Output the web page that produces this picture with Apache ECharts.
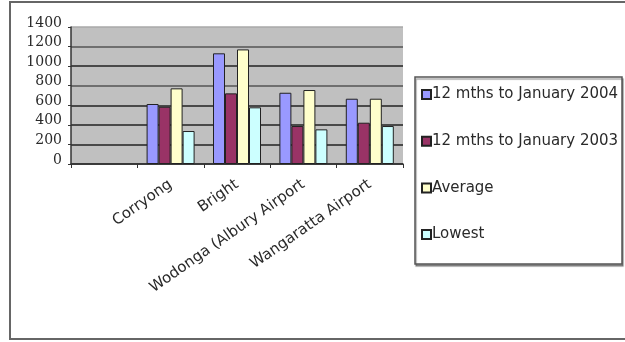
<!DOCTYPE html>
<html>
<head>
<meta charset="utf-8">
<script src="https://cdn.jsdelivr.net/npm/echarts@6/dist/echarts.min.js"></script>
<style>
  html, body { margin: 0; padding: 0; background: #ffffff; }
  #chart { width: 625px; height: 342px; }
</style>
</head>
<body>
<div id="chart"></div>
<script>
// Rainfall (mm) by station; the first slot is left empty on the axis.
const categories = ['', 'Corryong', 'Bright', 'Wodonga (Albury Airport', 'Wangaratta Airport'];
const seriesNames = ['12 mths to January 2004', '12 mths to January 2003', 'Average', 'Lowest'];
const jan2004 = [null, 613, 1131, 728, 667];
const jan2003 = [null, 585, 722, 388, 422];
const average = [null, 773, 1171, 756, 667];
const lowest  = [null, 337, 579, 354, 388];
const yTicks = [0, 200, 400, 600, 800, 1000, 1200, 1400];

const colors = ['#9999ff', '#993366', '#ffffcc', '#ccffff'];
const values = [jan2004, jan2003, average, lowest];

const chart = echarts.init(document.getElementById('chart'), null, { renderer: 'canvas' });

const series = seriesNames.map((name, i) => ({
  name: name,
  type: 'bar',
  data: values[i],
  barWidth: 12,
  barGap: '0%',
  itemStyle: { color: colors[i], borderColor: '#222', borderWidth: 1 }
}));

chart.setOption({
  animation: false,
  backgroundColor: '#ffffff',
  color: colors,
  grid: {
    left: 71, top: 27, width: 332, height: 137,
    show: true, backgroundColor: '#c0c0c0', borderWidth: 0
  },
  xAxis: {
    type: 'category',
    data: categories,
    axisLine: { lineStyle: { color: '#333', width: 1.5 } },
    axisTick: { show: true, length: 4, lineStyle: { color: '#333' } },
    axisLabel: {
      interval: 0, rotate: 35, margin: 19,
      fontFamily: 'DejaVu Sans', fontSize: 15, color: '#2a2a2a'
    },
    splitLine: { show: false }
  },
  yAxis: {
    type: 'value',
    min: yTicks[0], max: yTicks[yTicks.length - 1], interval: 200,
    axisLine: { show: true, lineStyle: { color: '#333', width: 1.5 } },
    axisTick: { show: true, length: 3, lineStyle: { color: '#333' } },
    axisLabel: {
      margin: 9, verticalAlign: 'bottom', lineHeight: 8,
      formatter: v => String(v),
      fontFamily: 'DejaVu Serif', fontSize: 14, color: '#2a2a2a'
    },
    splitLine: {
      show: true,
      lineStyle: {
        width: 1.5,
        color: ['#222', '#222', '#222', '#222', '#555', '#222', '#555', '#a8a8a8']
      }
    }
  },
  legend: {
    orient: 'vertical',
    left: 416, top: 82,
    itemWidth: 9, itemHeight: 9, itemGap: 31.7,
    icon: 'rect',
    textStyle: { fontFamily: 'DejaVu Sans', fontSize: 15, color: '#2a2a2a', padding: [0, 0, 0, -4] },
    data: seriesNames
  },
  graphic: [
    // outer frame (right side runs off the canvas)
    {
      type: 'polyline', silent: true,
      shape: { points: [[640, 2], [10, 2], [10, 339], [640, 339]] },
      style: { stroke: '#666', lineWidth: 2, fill: null }
    },
    // legend box
    {
      type: 'rect', silent: true, z: -1,
      shape: { x: 415, y: 77, width: 207, height: 187 },
      style: { stroke: '#555', lineWidth: 1.5, fill: '#ffffff',
               shadowColor: 'rgba(0,0,0,0.35)', shadowOffsetX: 1, shadowOffsetY: 2, shadowBlur: 1 }
    }
  ],
  series: series
});
</script>
</body>
</html>
